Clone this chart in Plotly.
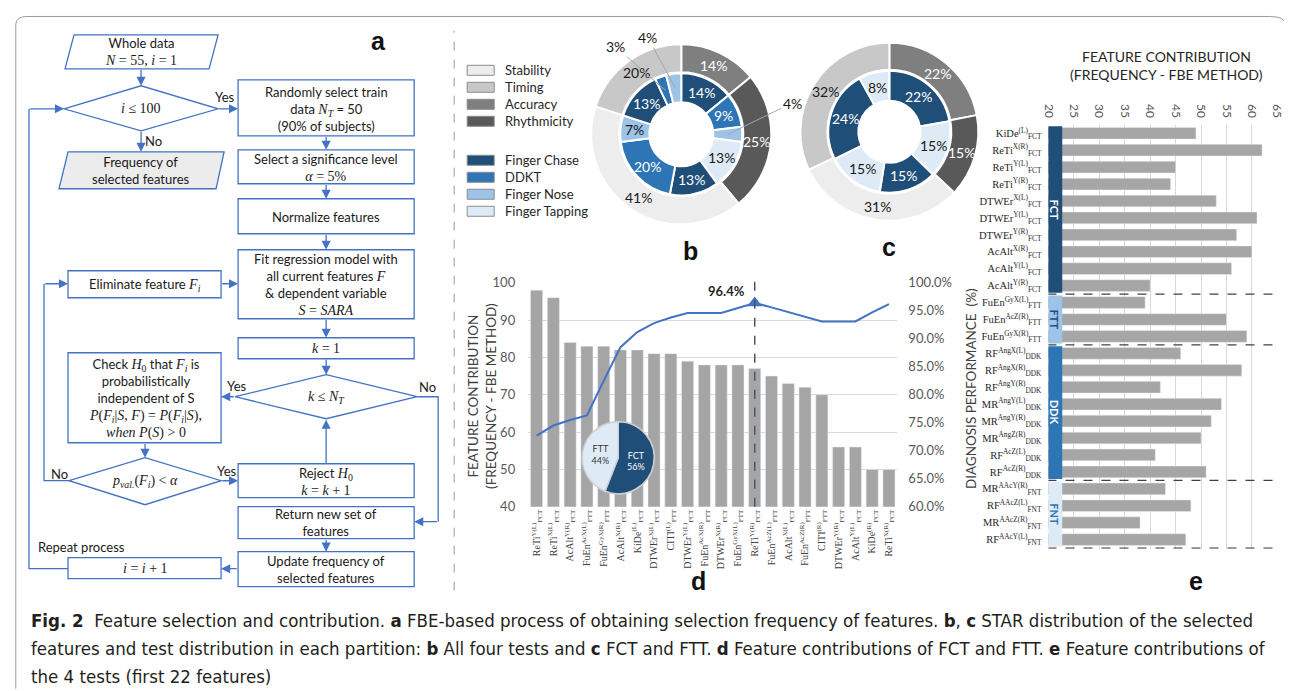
import math
import plotly.graph_objects as go

W, H = 1292, 691
# empirical mapping from reference-pixel coordinates to figure pixels (screenshot offset/scale)
OX, OY, SX, SY = 14.0, 15.2, 0.988, 0.977

# ---------------- data ----------------
b_outer_labels = ["Accuracy", "Rhythmicity", "Stability", "Timing"]
b_outer_values = [14, 25, 41, 20]
b_inner_labels = ["Finger Chase", "DDKT", "Finger Nose", "Finger Tapping", "Finger Chase",
                  "DDKT", "Finger Nose", "Finger Chase", "DDKT", "Finger Nose"]
b_inner_values = [14, 9, 4, 13, 13, 20, 7, 13, 3, 4]

c_outer_labels = ["Accuracy", "Rhythmicity", "Stability", "Timing"]
c_outer_values = [22, 15, 31, 32]
c_inner_labels = ["Finger Chase", "Finger Tapping", "Finger Chase", "Finger Tapping",
                  "Finger Chase", "Finger Tapping"]
c_inner_values = [22, 15, 15, 15, 24, 8]

star_legend = ["Stability", "Timing", "Accuracy", "Rhythmicity"]
test_legend = ["Finger Chase", "DDKT", "Finger Nose", "Finger Tapping"]

d_features = [
    "ReTi<sup>Y(L)</sup><sub>FCT</sub>", "ReTi<sup>X(L)</sup><sub>FCT</sub>",
    "AcAlt<sup>Y(R)</sup><sub>FCT</sub>", "FuEn<sup>AcX(L)</sup><sub>FTT</sub>",
    "FuEn<sup>GyX(R)</sup><sub>FTT</sub>", "AcAlt<sup>X(R)</sup><sub>FCT</sub>",
    "KiDe<sup>(L)</sup><sub>FCT</sub>", "DTWEr<sup>X(L)</sup><sub>FCT</sub>",
    "CITI<sup>(L)</sup><sub>FTT</sub>", "DTWEr<sup>Y(L)</sup><sub>FCT</sub>",
    "FuEn<sup>AcX(R)</sup><sub>FTT</sub>", "DTWEr<sup>X(R)</sup><sub>FCT</sub>",
    "FuEn<sup>GyX(L)</sup><sub>FTT</sub>", "ReTi<sup>Y(R)</sup><sub>FCT</sub>",
    "FuEn<sup>AcZ(L)</sup><sub>FTT</sub>", "AcAlt<sup>X(L)</sup><sub>FCT</sub>",
    "FuEn<sup>AcZ(R)</sup><sub>FTT</sub>", "CITI<sup>(R)</sup><sub>FTT</sub>",
    "DTWEr<sup>Y(R)</sup><sub>FCT</sub>", "AcAlt<sup>Y(L)</sup><sub>FCT</sub>",
    "KiDe<sup>(R)</sup><sub>FCT</sub>", "ReTi<sup>X(R)</sup><sub>FCT</sub>",
]
d_contrib = [98, 96, 84, 83, 83, 82, 82, 81, 81, 79, 78, 78, 78, 77, 75, 73, 72, 70, 56, 56, 50, 50]
d_perf = [72.7, 74.5, 75.5, 76.3, 82.5, 88.5, 91.2, 92.8, 93.8, 94.6, 94.6, 94.6, 95.5, 96.4,
          95.6, 94.8, 94.0, 93.1, 93.1, 93.1, 94.7, 96.2]
d_selected = 13
d_pie_labels = ["FCT", "FTT"]
d_pie_values = [56, 44]

e_features = [
    "KiDe<sup>(L)</sup><sub>FCT</sub>", "ReTi<sup>X(R)</sup><sub>FCT</sub>",
    "ReTi<sup>Y(L)</sup><sub>FCT</sub>", "ReTi<sup>Y(R)</sup><sub>FCT</sub>",
    "DTWEr<sup>X(L)</sup><sub>FCT</sub>", "DTWEr<sup>Y(L)</sup><sub>FCT</sub>",
    "DTWEr<sup>Y(R)</sup><sub>FCT</sub>", "AcAlt<sup>X(R)</sup><sub>FCT</sub>",
    "AcAlt<sup>Y(L)</sup><sub>FCT</sub>", "AcAlt<sup>Y(R)</sup><sub>FCT</sub>",
    "FuEn<sup>GyX(L)</sup><sub>FTT</sub>", "FuEn<sup>AcZ(R)</sup><sub>FTT</sub>",
    "FuEn<sup>GyX(R)</sup><sub>FTT</sub>",
    "RF<sup>AngX(L)</sup><sub>DDK</sub>", "RF<sup>AngX(R)</sup><sub>DDK</sub>",
    "RF<sup>AngY(R)</sup><sub>DDK</sub>", "MR<sup>AngY(L)</sup><sub>DDK</sub>",
    "MR<sup>AngY(R)</sup><sub>DDK</sub>", "MR<sup>AngZ(R)</sup><sub>DDK</sub>",
    "RF<sup>AcZ(L)</sup><sub>DDK</sub>", "RF<sup>AcZ(R)</sup><sub>DDK</sub>",
    "MR<sup>AAcY(R)</sup><sub>FNT</sub>", "RF<sup>AAcZ(L)</sup><sub>FNT</sub>",
    "MR<sup>AAcZ(R)</sup><sub>FNT</sub>", "RF<sup>AAcY(L)</sup><sub>FNT</sub>",
]
e_contrib = [49, 62, 45, 44, 53, 61, 57, 60, 56, 40, 39, 55, 59,
             46, 58, 42, 54, 52, 50, 41, 51, 43, 48, 38, 47]
e_groups = ["FCT"] * 10 + ["FTT"] * 3 + ["DDK"] * 8 + ["FNT"] * 4
e_group_names = ["FCT", "FTT", "DDK", "FNT"]
e_ticks = [20, 25, 30, 35, 40, 45, 50, 55, 60, 65]

# ---------------- styles ----------------
STAR_COLORS = {"Stability": "#ededed", "Timing": "#c8c8c8", "Accuracy": "#7f7f7f", "Rhythmicity": "#595959"}
TEST_COLORS = {"Finger Chase": "#1f4e79", "DDKT": "#2e75b6", "Finger Nose": "#9dc3e6", "Finger Tapping": "#deebf7"}
DARK = {"#7f7f7f", "#595959", "#1f4e79", "#2e75b6"}
GROUP_COLORS = {"FCT": "#1f4e79", "FTT": "#9dc3e6", "DDK": "#2e75b6", "FNT": "#deebf7"}
GROUP_TEXT = {"FCT": "white", "FTT": "#1f4e79", "DDK": "white", "FNT": "#2e75b6"}
BLUE = "#4472C4"
SANS = "Lato"
SERIF = "Liberation Serif"


def px(x):
    return (x - OX) / SX / W


def py(y):
    return 1 - (y - OY) / SY / H


fig = go.Figure()
shapes = []
annotations = []


def txt(x, y, s, size=13, color="#1a1a1a", family=SANS, **kw):
    d = dict(x=px(x), y=py(y), xref="paper", yref="paper", text=s, showarrow=False,
             font=dict(size=size, color=color, family=family), xanchor="center", yanchor="middle")
    d.update(kw)
    annotations.append(d)


def M(s):
    return "<span style='font-family:Liberation Serif;font-size:14px'>" + s + "</span>"


# ---------------- panel a: flowchart ----------------
def rect(x0, y0, x1, y1, fill="white"):
    shapes.append(dict(type="rect", xref="paper", yref="paper", x0=px(x0), x1=px(x1), y0=py(y1), y1=py(y0),
                       line=dict(color=BLUE, width=1.3), fillcolor=fill))


def poly(pts, fill="white", closed=True):
    p = "M " + " L ".join(f"{px(x):.5f},{py(y):.5f}" for x, y in pts) + (" Z" if closed else "")
    shapes.append(dict(type="path", xref="paper", yref="paper", path=p,
                       line=dict(color=BLUE, width=1.3),
                       fillcolor=fill if closed else "rgba(0,0,0,0)"))


def arrow(x0, y0, x1, y1):
    annotations.append(dict(x=px(x1), y=py(y1), xref="paper", yref="paper",
                            ax=(x0 - x1) / SX, ay=(y0 - y1) / SY,
                            axref="pixel", ayref="pixel", text="", showarrow=True, arrowhead=2,
                            arrowsize=1.4, arrowwidth=1.3, arrowcolor=BLUE, standoff=0, startstandoff=0))


# left column
poly([(73, 34), (217, 34), (208, 68), (64, 68)])
txt(140, 51, "Whole data<br>" + M("<i>N</i> = 55, <i>i</i> = 1"))
arrow(140, 68, 140, 85)
poly([(63, 108), (140, 85), (217, 108), (140, 130)])
txt(140, 108, M("<i>i</i> ≤ 100"))
arrow(217, 108, 237, 108)
txt(224, 96, "Yes")
arrow(140, 130, 140, 151)
txt(152, 140, "No")
poly([(67, 151), (223, 151), (215, 188), (58, 188)], fill="#ececec")
txt(140, 170, "Frequency of<br>selected features")

# right column
rect(237, 79, 413, 135)
txt(325, 108, "Randomly select train<br>data " + M("<i>N<sub>T</sub></i>") + " = 50<br>(90% of subjects)")
arrow(325, 135, 325, 149)
rect(237, 149, 413, 183)
txt(325, 167, "Select a significance level<br>" + M("<i>α</i> = 5%"))
arrow(325, 183, 325, 198)
rect(237, 198, 413, 233)
txt(325, 216, "Normalize features")
arrow(325, 233, 325, 249)
rect(237, 249, 413, 318)
txt(325, 284, "Fit regression model with<br>all current features " + M("<i>F</i>") +
    "<br>&amp; dependent variable<br>" + M("<i>S</i> = <i>SARA</i>"))
arrow(325, 318, 325, 337)
rect(237, 337, 413, 358)
txt(325, 348, M("<i>k</i> = 1"))
arrow(325, 358, 325, 374)
poly([(234, 396), (325, 374), (416, 396), (325, 418)])
txt(325, 397, M("<i>k</i> ≤ <i>N<sub>T</sub></i>"))
arrow(234, 396, 220, 396)
txt(236, 385, "Yes")
poly([(416, 396), (437, 396), (437, 521)], closed=False)
arrow(437, 521, 413, 521)
txt(426, 386, "No")

rect(67, 270, 220, 297)
txt(144, 284, "Eliminate feature " + M("<i>F<sub>i</sub></i>"))
arrow(220, 283, 237, 283)
rect(67, 352, 220, 442)
txt(144, 398, "Check " + M("<i>H</i><sub>0</sub>") + " that " + M("<i>F<sub>i</sub></i>") + " is<br>"
    "probabilistically<br>independent of S<br>" +
    M("<i>P</i>(<i>F<sub>i</sub></i>|<i>S</i>, <i>F</i>) = <i>P</i>(<i>F<sub>i</sub></i>|<i>S</i>),") + "<br>" +
    M("<i>when P</i>(<i>S</i>) &gt; 0"))
arrow(144, 442, 144, 457)
poly([(68, 480), (144, 457), (220, 480), (144, 504)])
txt(144, 481, M("<i>p<sub>val.</sub></i>(<i>F<sub>i</sub></i>) &lt; <i>α</i>"))
arrow(220, 480, 237, 480)
txt(226, 470, "Yes")
poly([(68, 480), (43, 480), (43, 283)], closed=False)
arrow(43, 283, 67, 283)
txt(58, 473, "No")

rect(237, 463, 413, 497)
txt(325, 481, "Reject " + M("<i>H</i><sub>0</sub>") + "<br>" + M("<i>k</i> = <i>k</i> + 1"))
arrow(325, 463, 325, 419)
rect(237, 506, 413, 538)
txt(325, 522, "Return new set of<br>features")
arrow(325, 538, 325, 551)
rect(237, 551, 413, 586)
txt(325, 569, "Update frequency of<br>selected features")
arrow(237, 568, 220, 568)
rect(67, 557, 220, 578)
txt(144, 568, M("<i>i</i> = <i>i</i> + 1"))
poly([(67, 568), (28, 568), (28, 108)], closed=False)
arrow(28, 108, 63, 108)
txt(35, 546, "Repeat process", xanchor="left")

# panel letters
for lx, ly, lt in [(377, 40, "a"), (689, 250, "b"), (888, 246, "c"), (697, 580, "d"), (1195, 580, "e")]:
    txt(lx, ly, "<b>" + lt + "</b>", size=25, color="#111", family="Liberation Sans")

# frame + separator
fx0, fy0 = max(px(9), 0.0006), min(py(8), 0.9993)
shapes.append(dict(type="path", xref="paper", yref="paper",
                   path=f"M {fx0},{py(688)} L {fx0},{py(24)} Q {fx0},{fy0} {px(26)},{fy0} "
                        f"L {px(1268)},{fy0} Q {px(1284)},{fy0} {px(1284)},{py(24)} L {px(1284)},{py(640)}",
                   line=dict(color="#9a9a9a", width=1), fillcolor="rgba(0,0,0,0)"))
shapes.append(dict(type="line", xref="paper", yref="paper", x0=px(453), x1=px(453), y0=py(590), y1=py(30),
                   line=dict(color="#9a9a9a", width=1, dash="dash")))


# ---------------- panels b, c: donuts ----------------
def slice_point(values, idx, cx, cy, r):
    tot = sum(values)
    cum = sum(values[:idx]) + values[idx] / 2
    th = 2 * math.pi * cum / tot
    return cx + r * math.sin(th), cy - r * math.cos(th)


def donut(labels, values, cmap, cx, cy, r, hole_r, hide_small=False):
    cols = [cmap[l] for l in labels]
    fig.add_trace(go.Pie(
        labels=[f"{l} {i}" for i, l in enumerate(labels)], values=values, sort=False, direction="clockwise",
        rotation=0, hole=hole_r / r, marker=dict(colors=cols, line=dict(color="white", width=2)),
        textinfo="none", hoverinfo="skip", showlegend=False,
        domain=dict(x=[px(cx - r), px(cx + r)], y=[py(cy + r), py(cy - r)])))
    rmid = (r + hole_r) / 2
    for i, v in enumerate(values):
        if hide_small and v < 5:
            continue
        lx, ly = slice_point(values, i, cx, cy, rmid)
        txt(lx, ly, f"{v}%", size=14, color="white" if cols[i] in DARK else "#1a1a1a")


BCX, BCY = 680, 133.5
donut(b_outer_labels, b_outer_values, STAR_COLORS, BCX, BCY, 90, 62)
donut(b_inner_labels, b_inner_values, TEST_COLORS, BCX, BCY, 61, 32, hide_small=True)
CCX, CCY = 888, 131
donut(c_outer_labels, c_outer_values, STAR_COLORS, CCX, CCY, 89, 62)
donut(c_inner_labels, c_inner_values, TEST_COLORS, CCX, CCY, 61, 31)

# callouts for small slices in b
callout_pos = {2: (790, 103), 8: (615, 47), 9: (647, 38)}
for idx, (lx, ly) in callout_pos.items():
    sx, sy = slice_point(b_inner_values, idx, BCX, BCY, 46.5)
    annotations.append(dict(x=px(sx), y=py(sy), xref="paper", yref="paper",
                            ax=(lx - sx) / SX, ay=(ly - sy) / SY,
                            axref="pixel", ayref="pixel", text=f"{b_inner_values[idx]}%", showarrow=True,
                            arrowhead=0, arrowwidth=1, arrowcolor="#a6a6a6",
                            font=dict(size=14, color="#1a1a1a", family=SANS)))

# legend for b/c
for i, name in enumerate(star_legend + test_legend):
    yy = 69.5 + 17 * i + (22 if i >= 4 else 0)
    col = STAR_COLORS.get(name, TEST_COLORS.get(name))
    shapes.append(dict(type="rect", xref="paper", yref="paper", x0=px(466), x1=px(493), y0=py(yy + 5),
                       y1=py(yy - 5), fillcolor=col, line=dict(color="#8c8c8c", width=1)))
    txt(502, yy, name, size=13, color="#262626", xanchor="left")

# ---------------- panel d ----------------
fig.add_trace(go.Bar(x=d_features, y=d_contrib, marker_color="#a5a5a5", width=0.72,
                     xaxis="x", yaxis="y", hoverinfo="skip"))
fig.add_trace(go.Scatter(x=d_features, y=d_perf, mode="lines", line=dict(color=BLUE, width=2),
                         xaxis="x", yaxis="y2", hoverinfo="skip"))
fig.add_trace(go.Scatter(x=[d_features[d_selected]], y=[d_perf[d_selected]], mode="markers",
                         marker=dict(symbol="triangle-up", size=13, color=BLUE),
                         xaxis="x", yaxis="y2", hoverinfo="skip"))
shapes.append(dict(type="line", xref="x", yref="paper", x0=d_selected, x1=d_selected, y0=py(506), y1=py(273),
                   line=dict(color="#44546a", width=1.5, dash="dash"), layer="above"))
annotations.append(dict(x=d_selected, y=d_perf[d_selected], xref="x", yref="y2",
                        text=f"<b>{d_perf[d_selected]:.1f}%</b>", showarrow=False, xanchor="right",
                        yanchor="bottom", xshift=-8, yshift=2, font=dict(size=13, color="#262626", family=SANS)))
fig.add_trace(go.Pie(labels=d_pie_labels, values=d_pie_values, sort=False, direction="clockwise", rotation=0,
                     marker=dict(colors=["#1f4e79", "#deebf7"], line=dict(color="#d0d0d0", width=1.5)),
                     text=[f"{l}<br>{v}%" for l, v in zip(d_pie_labels, d_pie_values)], textinfo="text",
                     textposition="inside", insidetextorientation="horizontal",
                     insidetextfont=dict(color=["white", "#333"], size=9, family=SANS),
                     hoverinfo="skip", showlegend=False,
                     domain=dict(x=[px(581), px(653)], y=[py(493), py(421)])))
txt(481, 395, "FEATURE CONTRIBUTION<br>(FREQUENCY - FBE METHOD)", size=13.5, color="#404040", textangle=-90)
txt(969, 388, "DIAGNOSIS PERFORMANCE  (%)", size=13.5, color="#404040", textangle=-90)

# ---------------- panel e ----------------
fig.add_trace(go.Bar(y=e_features, x=e_contrib, orientation="h", marker_color="#a6a6a6", width=0.69,
                     xaxis="x2", yaxis="y3", hoverinfo="skip"))
start = 0
for g in e_group_names:
    n = e_groups.count(g)
    first, last = start, start + n - 1
    shapes.append(dict(type="rect", xref="x2", yref="y3", x0=19.8, x1=22.7, y0=first - 0.5 + 0.08,
                       y1=last + 0.5 - 0.08, fillcolor=GROUP_COLORS[g], line=dict(width=0), layer="above"))
    shapes.append(dict(type="line", xref="x2", yref="y3", x0=19.8, x1=65, y0=last + 0.5, y1=last + 0.5,
                       line=dict(color="#404040", width=1.3, dash="dash"), layer="above"))
    annotations.append(dict(x=21.25, y=(first + last) / 2, xref="x2", yref="y3", text=f"<b>{g}</b>",
                            showarrow=False, textangle=90,
                            font=dict(size=11, color=GROUP_TEXT[g], family=SANS)))
    start += n
txt(1165, 56, "FEATURE CONTRIBUTION", size=14, color="#262626")
txt(1165, 74, "(FREQUENCY - FBE METHOD)", size=14, color="#262626")

# ---------------- caption ----------------
CAP = "DejaVu Sans Condensed, Liberation Sans Narrow, Roboto"
cap_lines = [
    "<b>Fig. 2</b>  Feature selection and contribution. <b>a</b> FBE-based process of obtaining selection "
    "frequency of features. <b>b</b>, <b>c</b> STAR distribution of the selected",
    "features and test distribution in each partition: <b>b</b> All four tests and <b>c</b> FCT and FTT. "
    "<b>d</b> Feature contributions of FCT and FTT. <b>e</b> Feature contributions of",
    "the 4 tests (first 22 features)",
]
for i, line in enumerate(cap_lines):
    txt(28, 620 + 28 * i, line, size=18.5, color="#231f20", family=CAP, xanchor="left")

# ---------------- layout ----------------
fig.update_layout(
    width=W, height=H, margin=dict(l=0, r=0, t=0, b=0),
    paper_bgcolor="white", plot_bgcolor="rgba(0,0,0,0)", showlegend=False,
    font=dict(family=SANS, color="#404040"),
    xaxis=dict(domain=[px(527), px(896)], anchor="y", type="category", tickangle=-90,
               tickfont=dict(family=SERIF, size=10, color="#404040"), showgrid=False, ticks="",
               showline=False, fixedrange=True),
    yaxis=dict(domain=[py(506), py(282)], range=[40, 100], dtick=10, gridcolor="#d9d9d9", zeroline=False,
               tickfont=dict(size=13, color="#595959"), ticklabelstandoff=12),
    yaxis2=dict(overlaying="y", side="right", anchor="x", range=[60, 100],
                tickvals=[60 + 5 * k for k in range(9)], ticktext=[f"{60 + 5 * k:.1f}%" for k in range(9)],
                showgrid=False, zeroline=False, tickfont=dict(size=13, color="#595959"), ticklabelstandoff=10),
    xaxis2=dict(domain=[px(1047), px(1276)], anchor="y3", side="top", range=[19.98, 65.03],
                tickmode="array", tickvals=e_ticks, ticktext=[str(t) for t in e_ticks], tickangle=90,
                gridcolor="#d9d9d9", zeroline=False, tickfont=dict(size=12, color="#595959"),
                ticklabelstandoff=4, ticklabeloverflow="allow"),
    yaxis3=dict(domain=[py(548), py(124)], anchor="x2", type="category", categoryarray=e_features,
                categoryorder="array", autorange="reversed", showgrid=False, ticks="",
                tickfont=dict(family=SERIF, size=10.5, color="#262626"), ticklabelstandoff=6),
    shapes=shapes, annotations=annotations,
)

fig.write_html("out.html")
